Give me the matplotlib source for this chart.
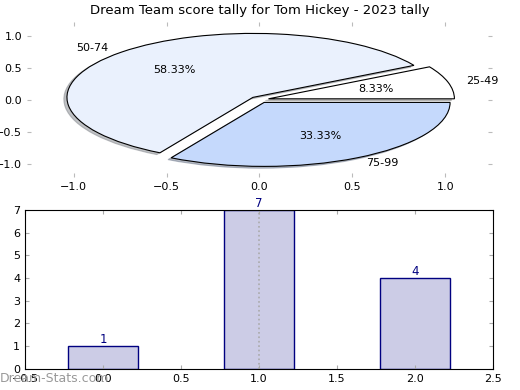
import matplotlib
matplotlib.use('Agg')
import matplotlib.pyplot as plt

# data
pie_labels = ['25-49', '50-74', '75-99']
pie_values = [1, 7, 4]
pie_colors = ['#ffffff', '#eaf1fd', '#c5d9fc']

bar_x = [0, 1, 2]
bar_values = [1, 7, 4]

fig = plt.figure(figsize=(5.2, 3.9), dpi=100)

# top: pie inside a stretched axes
ax1 = fig.add_axes([0.052, 0.546, 0.894, 0.397])
wedges, texts, autotexts = ax1.pie(
    pie_values, labels=pie_labels, colors=pie_colors, explode=[0.05] * 3,
    autopct='%1.2f%%', shadow=dict(ox=-0.012, oy=-0.02, shade=0.45),
    startangle=0, frame=True,
    wedgeprops=dict(edgecolor='black', linewidth=0.8),
    textprops=dict(fontsize=8))
ax1.set_aspect('auto')
ax1.set_xlim(-1.25, 1.25)
ax1.set_ylim(-1.21, 1.21)
ax1.set_xticks([-1.0, -0.5, 0.0, 0.5, 1.0])
ax1.set_yticks([-1.0, -0.5, 0.0, 0.5, 1.0])
for s in ax1.spines.values():
    s.set_visible(False)
ax1.tick_params(direction='in', top=True, right=True, color='#bbbbbb',
                length=3, labelsize=8)
ax1.set_title('Dream Team score tally for Tom Hickey - 2023 tally',
              fontsize=9.5, pad=6)

# bottom: bars
ax2 = fig.add_axes([0.048, 0.054, 0.9, 0.408])
ax2.bar(bar_x, bar_values, width=0.45, color='#ccccE6', edgecolor='#000080',
        linewidth=1.0)
for x, v in zip(bar_x, bar_values):
    ax2.text(x, v, str(v), ha='center', va='bottom', color='#000080', fontsize=8.5)
ax2.axvline(1.0, color='#aaaaaa', linestyle=':', linewidth=1.2)
ax2.set_xlim(-0.5, 2.5)
ax2.set_ylim(0, 7)
ax2.tick_params(direction='in', top=True, right=True, color='#aaaaaa',
                length=3, labelsize=8)

fig.text(0.0, 0.012, 'Dream-Stats.com', color='#999999', fontsize=9,
         ha='left', va='bottom')

fig.savefig('out.png', dpi=100)
